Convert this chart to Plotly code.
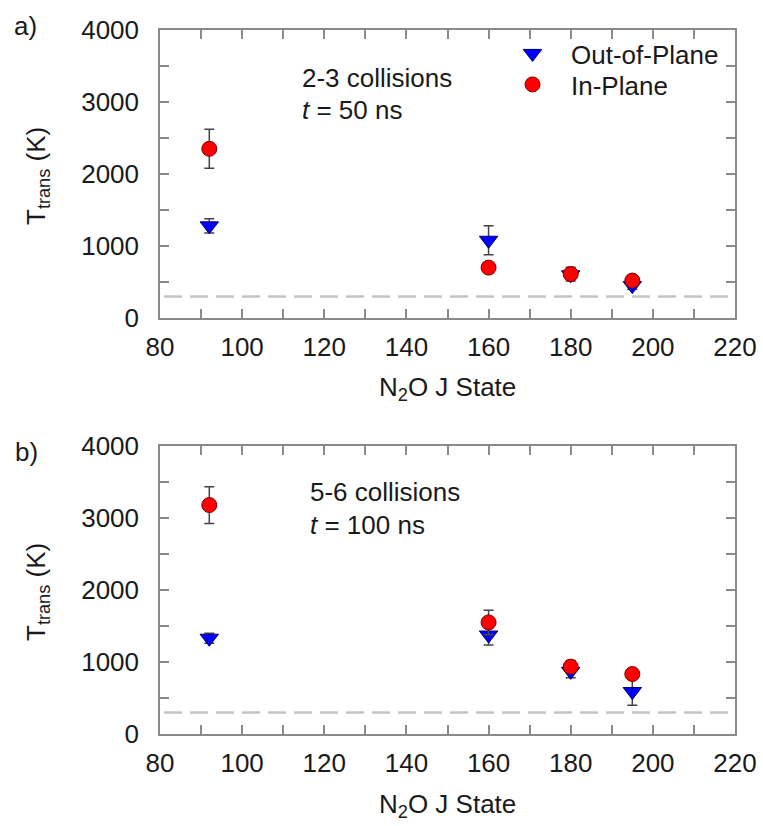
import plotly.graph_objects as go

# ---- data ----
j_states = [92, 160, 180, 195]

# panel a) 2-3 collisions, t = 50 ns
a_out = [1280, 1080, 600, 450]
a_out_err = [100, 200, 60, 50]
a_in = [2350, 700, 610, 520]
a_in_err = [270, 40, 95, 40]

# panel b) 5-6 collisions, t = 100 ns
b_out = [1330, 1375, 870, 590]
b_out_err = [70, 140, 90, 190]
b_in = [3180, 1550, 935, 833]
b_in_err = [255, 170, 85, 60]

room_temp = 298
x_ticks = [80, 100, 120, 140, 160, 180, 200, 220]
y_ticks = [0, 1000, 2000, 3000, 4000]

FONT = "Liberation Sans, Arial, sans-serif"
FS = 26
TXT = "#1a1a1a"
AX = "#8a8a8a"
W, H = 763, 826

def px_x(p):
    return p / W

def px_y(p):
    return 1 - p / H

fig = go.Figure()

def add_panel(xa, ya, out_v, out_e, in_v, in_e, show_legend):
    fig.add_trace(go.Scatter(
        x=[x_ticks[0] + 1, x_ticks[-1] - 1], y=[room_temp, room_temp],
        mode="lines", line=dict(color="#c4c4c4", width=2.5, dash="18px,8px"),
        showlegend=False, hoverinfo="skip", xaxis=xa, yaxis=ya))
    fig.add_trace(go.Scatter(
        x=j_states, y=out_v, mode="markers", name="Out-of-Plane",
        marker=dict(symbol="triangle-down", size=16, color="#0000ff",
                    line=dict(color="#00006a", width=1)),
        error_y=dict(type="data", array=out_e, color="#444444",
                     thickness=1.5, width=5),
        showlegend=show_legend, legend="legend", xaxis=xa, yaxis=ya))
    fig.add_trace(go.Scatter(
        x=j_states, y=in_v, mode="markers", name="In-Plane",
        marker=dict(symbol="circle", size=15, color="#ff0000",
                    line=dict(color="#7a0000", width=1)),
        error_y=dict(type="data", array=in_e, color="#444444",
                     thickness=1.5, width=5),
        showlegend=show_legend, legend="legend2", xaxis=xa, yaxis=ya))

add_panel("x", "y", a_out, a_out_err, a_in, a_in_err, True)
add_panel("x2", "y2", b_out, b_out_err, b_in, b_in_err, False)

def xaxis(dom_y_anchor):
    return dict(
        domain=[px_x(160), px_x(735)], range=[80, 220], anchor=dom_y_anchor,
        tickmode="array", tickvals=x_ticks, ticktext=[str(v) for v in x_ticks],
        ticks="inside", ticklen=9, tickwidth=1.5, tickcolor=AX,
        minor=dict(dtick=10, ticks="inside", ticklen=9, tickwidth=1.5, tickcolor=AX),
        showline=True, linecolor=AX, linewidth=1.5, mirror="ticks",
        showgrid=False, zeroline=False, automargin=False,
        tickfont=dict(family=FONT, size=FS, color=TXT), ticklabelstandoff=5)

def yaxis(dom, x_anchor):
    return dict(
        domain=dom, range=[0, 4000], anchor=x_anchor,
        tickmode="array", tickvals=y_ticks, ticktext=[str(v) for v in y_ticks],
        ticks="inside", ticklen=9, tickwidth=1.5, tickcolor=AX,
        minor=dict(dtick=500, ticks="inside", ticklen=9, tickwidth=1.5, tickcolor=AX),
        showline=True, linecolor=AX, linewidth=1.5, mirror="ticks",
        showgrid=False, zeroline=False, automargin=False,
        tickfont=dict(family=FONT, size=FS, color=TXT), ticklabelstandoff=14)

leg_common = dict(xanchor="left", yanchor="top", bgcolor="rgba(0,0,0,0)",
                  itemwidth=67, font=dict(family=FONT, size=FS, color=TXT))

fig.update_layout(
    width=W, height=H, margin=dict(l=0, r=0, t=0, b=0),
    paper_bgcolor="white", plot_bgcolor="white",
    font=dict(family=FONT, size=FS, color=TXT),
    xaxis=xaxis("y"),
    yaxis=yaxis([px_y(318), px_y(30)], "x"),
    xaxis2=xaxis("y2"),
    yaxis2=yaxis([px_y(734), px_y(446)], "x2"),
    legend=dict(x=px_x(494), y=px_y(30), **leg_common),
    legend2=dict(x=px_x(494), y=px_y(61), **leg_common),
)

def ann(text, x, y, xref="paper", yref="paper", xanchor="center", **kw):
    fig.add_annotation(text=text, x=x, y=y, xref=xref, yref=yref,
                       xanchor=xanchor, yanchor="middle",
                       showarrow=False, font=dict(family=FONT, size=FS, color=TXT), **kw)

# panel labels
ann("a)", px_x(25), px_y(26))
ann("b)", px_x(26), px_y(452))
# y titles
ann("T<sub>trans</sub> (K)", px_x(37), px_y(176), textangle=-90)
ann("T<sub>trans</sub> (K)", px_x(37), px_y(592), textangle=-90)
# x titles
ann("N<sub>2</sub>O J State", px_x(447), px_y(388))
ann("N<sub>2</sub>O J State", px_x(447), px_y(805))
# condition text
ann("2-3 collisions", 114.1, 3333, xref="x", yref="y", xanchor="left")
ann("<i>t</i> = 50 ns", 114.1, 2889, xref="x", yref="y", xanchor="left")
ann("5-6 collisions", 116.0, 3361, xref="x2", yref="y2", xanchor="left")
ann("<i>t</i> = 100 ns", 116.0, 2903, xref="x2", yref="y2", xanchor="left")

fig.write_html("out.html")
